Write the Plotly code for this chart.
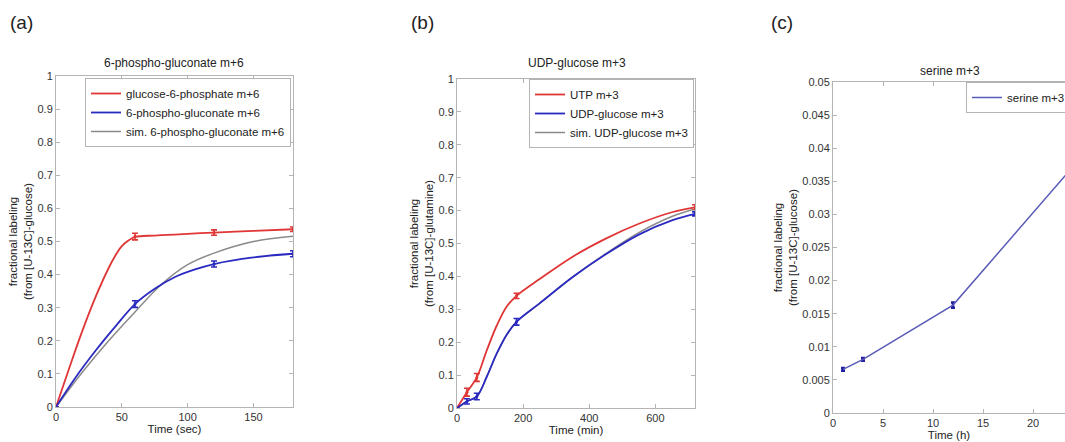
import plotly.graph_objects as go

# ---------------- data ----------------
# panel (a): 6-phospho-gluconate m+6, time in sec
a_time = [0, 60, 120, 180]
a_g6p = [0.0, 0.515, 0.527, 0.537]
a_g6p_err = [0.0, 0.010, 0.008, 0.007]
a_6pg = [0.0, 0.311, 0.432, 0.463]
a_6pg_err = [0.0, 0.010, 0.009, 0.009]
# fitted curves as drawn in the figure
a_g6p_curve_t = [0, 10, 20, 30, 40, 45, 50, 55, 60, 75, 90, 120, 150, 180]
a_g6p_curve = [0.0, 0.117, 0.230, 0.332, 0.420, 0.457, 0.486, 0.503, 0.514, 0.518, 0.521, 0.527, 0.532, 0.537]
a_6pg_curve_t = [0, 15, 30, 45, 60, 75, 90, 105, 120, 150, 180]
a_6pg_curve = [0.0, 0.090, 0.170, 0.243, 0.311, 0.357, 0.392, 0.415, 0.432, 0.452, 0.463]
a_sim_t = [0, 20, 40, 60, 80, 100, 120, 150, 180]
a_sim_6pg = [0.0, 0.105, 0.200, 0.287, 0.370, 0.430, 0.465, 0.500, 0.516]

# panel (b): UDP-glucose m+3, time in min
b_time = [0, 30, 60, 180, 720]
b_utp = [0.0, 0.048, 0.093, 0.341, 0.610]
b_utp_err = [0.0, 0.012, 0.012, 0.008, 0.008]
b_udpg = [0.0, 0.020, 0.035, 0.262, 0.590]
b_udpg_err = [0.0, 0.008, 0.010, 0.010, 0.006]
b_curve_t = [0, 30, 60, 90, 120, 150, 180, 250, 350, 450, 550, 650, 720]
b_utp_curve = [0.0, 0.048, 0.093, 0.175, 0.250, 0.308, 0.341, 0.392, 0.460, 0.515, 0.560, 0.595, 0.610]
b_udpg_curve = [0.0, 0.020, 0.035, 0.095, 0.165, 0.222, 0.262, 0.318, 0.398, 0.467, 0.527, 0.570, 0.590]
b_sim_udpg = [0.0, 0.020, 0.035, 0.095, 0.165, 0.222, 0.262, 0.318, 0.398, 0.469, 0.533, 0.582, 0.605]

# panel (c): serine m+3, time in h
c_time = [1, 3, 12, 24]
c_serine = [0.0066, 0.0081, 0.0163, 0.0372]
c_serine_err = [0.0002, 0.0002, 0.0004, 0.0004]

# tick labels
tick01 = [0, 0.1, 0.2, 0.3, 0.4, 0.5, 0.6, 0.7, 0.8, 0.9, 1]
tick01_text = ["0", "0.1", "0.2", "0.3", "0.4", "0.5", "0.6", "0.7", "0.8", "0.9", "1"]
a_xticks = [0, 50, 100, 150]
b_xticks = [0, 200, 400, 600]
c_xticks = [0, 5, 10, 15, 20]
c_yticks = [0, 0.005, 0.01, 0.015, 0.02, 0.025, 0.03, 0.035, 0.04, 0.045, 0.05]
c_ytick_text = ["0", "0.005", "0.01", "0.015", "0.02", "0.025", "0.03", "0.035", "0.04", "0.045", "0.05"]

RED = "#e03636"
BLUE = "#2a2ac0"
GRAY = "#8a8a8a"
SLATE = "#5a5ab8"
FONT = "Liberation Sans, Arial, sans-serif"

fig = go.Figure()


def err(arr, color):
    return dict(type="data", array=arr, visible=True, color=color, thickness=1.6, width=3)


def curve(x, y, name, color, width, xa, ya, leg, rank, show=True):
    return go.Scatter(x=x, y=y, mode="lines", name=name,
                      line=dict(color=color, width=width, shape="spline", smoothing=1.0),
                      xaxis=xa, yaxis=ya, legend=leg, legendrank=rank, showlegend=show)


def points(x, y, e, color, xa, ya):
    return go.Scatter(x=x, y=y, mode="markers", marker=dict(color=color, size=3),
                      error_y=err(e, color), xaxis=xa, yaxis=ya, showlegend=False,
                      hoverinfo="x+y")


# panel a
fig.add_trace(curve(a_sim_t, a_sim_6pg, "sim. 6-phospho-gluconate m+6", GRAY, 1.5, "x", "y", "legend", 3))
fig.add_trace(curve(a_g6p_curve_t, a_g6p_curve, "glucose-6-phosphate m+6", RED, 1.8, "x", "y", "legend", 1))
fig.add_trace(curve(a_6pg_curve_t, a_6pg_curve, "6-phospho-gluconate m+6", BLUE, 1.8, "x", "y", "legend", 2))
fig.add_trace(points(a_time, a_g6p, a_g6p_err, RED, "x", "y"))
fig.add_trace(points(a_time, a_6pg, a_6pg_err, BLUE, "x", "y"))

# panel b
fig.add_trace(curve(b_curve_t, b_sim_udpg, "sim. UDP-glucose m+3", GRAY, 1.5, "x2", "y2", "legend2", 3))
fig.add_trace(curve(b_curve_t, b_utp_curve, "UTP m+3", RED, 1.8, "x2", "y2", "legend2", 1))
fig.add_trace(curve(b_curve_t, b_udpg_curve, "UDP-glucose m+3", BLUE, 1.8, "x2", "y2", "legend2", 2))
fig.add_trace(points(b_time, b_utp, b_utp_err, RED, "x2", "y2"))
fig.add_trace(points(b_time, b_udpg, b_udpg_err, BLUE, "x2", "y2"))

# panel c
fig.add_trace(go.Scatter(x=c_time, y=c_serine, mode="lines", name="serine m+3",
                         line=dict(color=SLATE, width=1.5),
                         error_y=dict(type="data", array=c_serine_err, visible=True, color="#2020a0",
                                      thickness=2.5, width=2),
                         xaxis="x3", yaxis="y3", legend="legend3"))

W, H = 1065, 442


def px_x(p):
    return p / W


def px_y(p):
    return (H - p) / H


axis_common = dict(showline=True, linecolor="#b4b4b4", linewidth=1, ticks="inside", ticklen=4,
                   tickcolor="#b4b4b4", showgrid=False, zeroline=False,
                   tickfont=dict(family=FONT, size=11, color="#333333"),
                   title_font=dict(family=FONT, size=11.5, color="#222222"))

ylab = "fractional labeling<br>(from [U-13C]-glucose)"
ylab_b = "fractional labeling<br>(from [U-13C]-glutamine)"

layout_axes = dict(
    xaxis=dict(domain=[px_x(56), px_x(293)], range=[0, 180], tickvals=a_xticks, anchor="y",
               mirror="ticks", title=dict(text="Time (sec)", standoff=1), **axis_common),
    yaxis=dict(domain=[px_y(407), px_y(76)], range=[0, 1], tickvals=tick01, ticktext=tick01_text,
               anchor="x", mirror="ticks", title=dict(text=ylab, standoff=2), **axis_common),
    xaxis2=dict(domain=[px_x(457), px_x(695)], range=[0, 720], tickvals=b_xticks, anchor="y2",
                mirror="ticks", title=dict(text="Time (min)", standoff=1), **axis_common),
    yaxis2=dict(domain=[px_y(408), px_y(79)], range=[0, 1], tickvals=tick01, ticktext=tick01_text,
                anchor="x2", mirror="ticks", title=dict(text=ylab_b, standoff=2), **axis_common),
    xaxis3=dict(domain=[px_x(833), 1.0], range=[0, 23.2], tickvals=c_xticks, anchor="y3",
                mirror="ticks", title=dict(text="Time (h)", standoff=1), **axis_common),
    yaxis3=dict(domain=[px_y(413), px_y(82)], range=[0, 0.05], tickvals=c_yticks, ticktext=c_ytick_text,
                anchor="x3", mirror=False, title=dict(text=ylab, standoff=2), **axis_common),
)

legend_common = dict(bgcolor="white", bordercolor="#b4b4b4", borderwidth=1,
                     font=dict(family=FONT, size=11.5, color="#222222"),
                     tracegroupgap=0, itemwidth=30, xanchor="right", yanchor="top",
                     traceorder="normal")

fig.update_layout(
    width=W, height=H,
    margin=dict(l=0, r=0, t=0, b=0, autoexpand=False),
    paper_bgcolor="white", plot_bgcolor="white",
    showlegend=True,
    legend=dict(x=px_x(291), y=px_y(78), **legend_common),
    legend2=dict(x=px_x(694), y=px_y(79), **legend_common),
    legend3=dict(x=px_x(966), y=px_y(82), **{**legend_common, "xanchor": "left"}),
    **layout_axes,
)

annots = [
    dict(text="(a)", x=px_x(8), y=px_y(22), xanchor="left", yanchor="middle", font=dict(size=19)),
    dict(text="(b)", x=px_x(409), y=px_y(22), xanchor="left", yanchor="middle", font=dict(size=19)),
    dict(text="(c)", x=px_x(769), y=px_y(22), xanchor="left", yanchor="middle", font=dict(size=19)),
    dict(text="6-phospho-gluconate m+6", x=px_x(174), y=px_y(63), xanchor="center", yanchor="middle",
         font=dict(size=12)),
    dict(text="UDP-glucose m+3", x=px_x(577), y=px_y(63), xanchor="center", yanchor="middle",
         font=dict(size=12)),
    dict(text="serine m+3", x=px_x(950), y=px_y(71), xanchor="center", yanchor="middle",
         font=dict(size=12)),
]
for a in annots:
    a.update(xref="paper", yref="paper", showarrow=False)
    a["font"] = dict(family=FONT, color="#222222", **a["font"])
fig.update_layout(annotations=annots)

fig.write_html("out.html")
